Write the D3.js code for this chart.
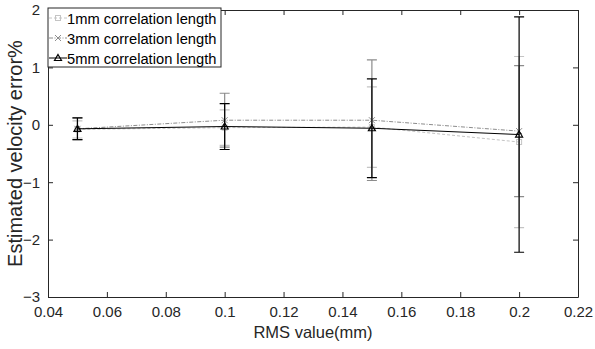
<!DOCTYPE html>
<html><head><meta charset="utf-8">
<script src="https://cdn.jsdelivr.net/npm/d3@7"></script>
<style>body{margin:0;background:#fff}svg{font-family:"Liberation Sans",Arial,sans-serif}</style>
</head><body><svg id="c" width="595" height="349"></svg>
<script>
const rmsValues = [0.05, 0.10, 0.15, 0.20];
const seriesNames = ["1mm correlation length", "3mm correlation length", "5mm correlation length"];
const mean1mm = [-0.08, -0.05, -0.04, -0.30];
const err1mm  = [0.15, 0.31, 0.70, 1.49];
const mean3mm = [-0.07, 0.08, 0.08, -0.11];
const err3mm  = [0.19, 0.47, 1.05, 1.14];
const mean5mm = [-0.07, -0.03, -0.06, -0.17];
const err5mm  = [0.19, 0.40, 0.86, 2.05];
const xTicks = [0.04,0.06,0.08,0.1,0.12,0.14,0.16,0.18,0.2,0.22];
const yTicks = [-3,-2,-1,0,1,2];

const series = [
  {name: seriesNames[0], mean: mean1mm, err: err1mm, color: "#c4c4c4", dash: "3,2", marker: "square"},
  {name: seriesNames[1], mean: mean3mm, err: err3mm, color: "#8c8c8c", dash: "4,1.5,1,1.5", marker: "x"},
  {name: seriesNames[2], mean: mean5mm, err: err5mm, color: "#000000", dash: null, marker: "tri"}
];

const svg = d3.select("#c");
const L = 48, R = 578, T = 10, B = 297;
const x = d3.scaleLinear().domain([0.04, 0.22]).range([L, R]);
const y = d3.scaleLinear().domain([-3, 2]).range([B, T]);

const fmt = d => String(+d.toFixed(2));
const ax = svg.append("g");
ax.append("g").attr("transform", `translate(0,${B})`)
  .call(d3.axisBottom(x).tickValues(xTicks).tickSizeInner(-5).tickSizeOuter(0).tickPadding(9).tickFormat(fmt));
ax.append("g").attr("transform", `translate(0,${T})`)
  .call(d3.axisTop(x).tickValues(xTicks).tickSizeInner(-5).tickSizeOuter(0).tickFormat(""));
ax.append("g").attr("transform", `translate(${L},0)`)
  .call(d3.axisLeft(y).tickValues(yTicks).tickSizeInner(-5).tickSizeOuter(0).tickPadding(8).tickFormat(d3.format("d")));
ax.append("g").attr("transform", `translate(${R},0)`)
  .call(d3.axisRight(y).tickValues(yTicks).tickSizeInner(-5).tickSizeOuter(0).tickFormat(""));
ax.selectAll(".domain, .tick line").attr("stroke", "#262626");
ax.selectAll("text").attr("fill", "#262626").attr("font-size", 15)
  .attr("font-family", "Liberation Sans, Arial, sans-serif");

const line = d3.line().x((d,i) => x(rmsValues[i])).y(d => y(d));
const capW = 5;
function drawMarker(g, m, cx, cy, color) {
  if (m === "square") {
    g.append("rect").attr("x", cx-2.5).attr("y", cy-2.5).attr("width", 5).attr("height", 5)
      .attr("fill", "none").attr("stroke", color).attr("stroke-width", 1);
  } else if (m === "x") {
    g.append("path").attr("d", `M${cx-3},${cy-3}L${cx+3},${cy+3}M${cx-3},${cy+3}L${cx+3},${cy-3}`)
      .attr("stroke", color).attr("stroke-width", 1);
  } else {
    g.append("path").attr("d", `M${cx},${cy-3.5}L${cx+3.5},${cy+2.5}L${cx-3.5},${cy+2.5}Z`)
      .attr("fill", "none").attr("stroke", color).attr("stroke-width", 1.2);
  }
}
series.forEach(s => {
  const g = svg.append("g");
  g.append("path").datum(s.mean).attr("d", line).attr("fill", "none")
    .attr("stroke", s.color).attr("stroke-width", 1).attr("stroke-dasharray", s.dash);
  s.mean.forEach((m, i) => {
    const cx = x(rmsValues[i]), y0 = y(m - s.err[i]), y1 = y(m + s.err[i]);
    g.append("path").attr("d", `M${cx},${y0}L${cx},${y1}M${cx-capW},${y0}L${cx+capW},${y0}M${cx-capW},${y1}L${cx+capW},${y1}`)
      .attr("stroke", s.color).attr("stroke-width", 1.2).attr("fill", "none");
    drawMarker(g, s.marker, cx, y(m), s.color);
  });
});

const lg = svg.append("g");
lg.append("rect").attr("x", L).attr("y", 8).attr("width", 173).attr("height", 59)
  .attr("fill", "#fff").attr("stroke", "#262626").attr("stroke-width", 1);
series.forEach((s, i) => {
  const ly = 18 + i * 20;
  lg.append("line").attr("x1", L+1).attr("x2", L+19).attr("y1", ly).attr("y2", ly)
    .attr("stroke", s.color).attr("stroke-dasharray", s.dash);
  drawMarker(lg, s.marker, L+10, ly, s.color);
  lg.append("text").attr("x", L+19).attr("y", ly+5.5).attr("font-size", 14.7).attr("fill", "#000").text(s.name);
});

svg.append("text").attr("x", (L+R)/2).attr("y", 338).attr("text-anchor", "middle")
  .attr("font-size", 16.5).attr("fill", "#262626").text("RMS value(mm)");
svg.append("text").attr("transform", `translate(22,${(T+B)/2}) rotate(-90)`).attr("text-anchor", "middle")
  .attr("font-size", 20).attr("fill", "#262626").text("Estimated velocity error%");
</script></body></html>
